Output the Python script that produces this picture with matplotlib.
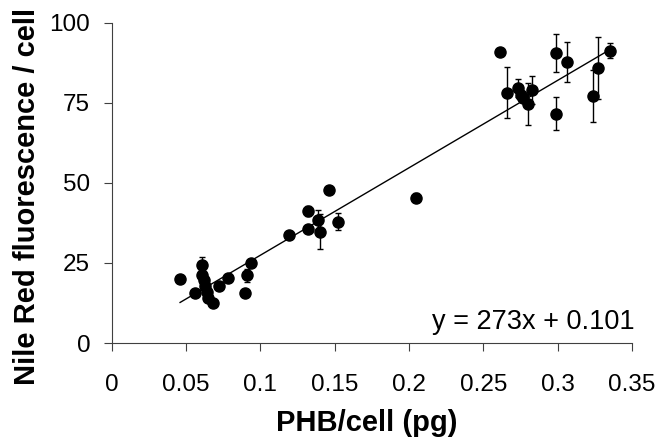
import matplotlib
matplotlib.use('Agg')
import matplotlib.pyplot as plt
import numpy as np

plt.rcParams['font.family'] = ['Liberation Sans', 'DejaVu Sans']

# PHB per cell (pg) vs Nile Red fluorescence per cell, with error bars
phb = [0.046, 0.056, 0.061, 0.061, 0.062, 0.063, 0.064, 0.065, 0.068, 0.072,
       0.078, 0.090, 0.091, 0.094,
       0.119, 0.132, 0.132, 0.139, 0.140, 0.146, 0.152, 0.205,
       0.261, 0.266, 0.273, 0.275, 0.277, 0.280, 0.283, 0.299, 0.299,
       0.306, 0.324, 0.327, 0.335]
nile_red = [19.9, 15.7, 24.5, 21.3, 19.6, 17.8, 16.0, 14.2, 12.4, 17.9,
            20.4, 15.5, 21.2, 25.1,
            33.8, 35.5, 41.2, 38.4, 34.8, 47.8, 37.9, 45.4,
            90.8, 78.2, 79.6, 77.5, 76.5, 74.6, 79.1, 90.5, 71.6,
            87.7, 77.0, 85.8, 91.3]
nile_red_err = [0, 0, 2.5, 0, 0, 0, 0, 0, 0, 0,
                0, 0, 2.0, 1.0,
                0, 0, 1.5, 3.1, 5.5, 0, 2.7, 1.5,
                0, 7.9, 2.8, 0, 0, 6.5, 4.4, 6.0, 5.2,
                6.3, 8.1, 9.6, 2.3]

# linear trend line (from the chart)
slope = 273
intercept = 0.101

x_ticks = [0, 0.05, 0.1, 0.15, 0.2, 0.25, 0.3, 0.35]
x_tick_labels = ['0', '0.05', '0.1', '0.15', '0.2', '0.25', '0.3', '0.35']
y_ticks = [0, 25, 50, 75, 100]

fig = plt.figure(figsize=(6.61, 4.47), dpi=100)
fig.patch.set_facecolor('white')
ax = fig.add_axes([111.7 / 661, 1 - 343 / 447, 520.3 / 661, 320.3 / 447])

# trend line
x_line = np.array([min(phb), max(phb)])
ax.plot(x_line, slope * x_line + intercept, color='black', lw=1.0, zorder=2)

# points with error bars
ax.errorbar(phb, nile_red, yerr=nile_red_err, fmt='o', color='black',
            ms=8, ecolor='black', elinewidth=1.0, capsize=2, capthick=1.0,
            zorder=3)

ax.set_xlim(0, 0.35)
ax.set_ylim(0, 100)
ax.set_xticks(x_ticks)
ax.set_xticklabels(x_tick_labels)
ax.set_yticks(y_ticks)

for side in ['top', 'right']:
    ax.spines[side].set_visible(False)
for side in ['left', 'bottom']:
    ax.spines[side].set_color('#404040')
    ax.spines[side].set_linewidth(0.8)

ax.tick_params(axis='both', direction='out', length=5.5, width=0.8,
               color='#404040', labelsize=17.5, labelcolor='black')
ax.tick_params(axis='x', pad=17)
ax.tick_params(axis='y', pad=10)

# axis titles
fig.text(367 / 661, 1 - 431 / 447, 'PHB/cell (pg)', ha='center', va='baseline',
         fontsize=21, fontweight='bold')
fig.text(27 / 661, 1 - 196.5 / 447, 'Nile Red fluorescence / cell', ha='center',
         va='center', rotation=90, fontsize=21, fontweight='bold')

# equation
fig.text(635 / 661, 1 - 329.3 / 447, 'y = 273x + 0.101', ha='right',
         va='baseline', fontsize=19.5)

fig.savefig('out.png', dpi=100, facecolor='white')
